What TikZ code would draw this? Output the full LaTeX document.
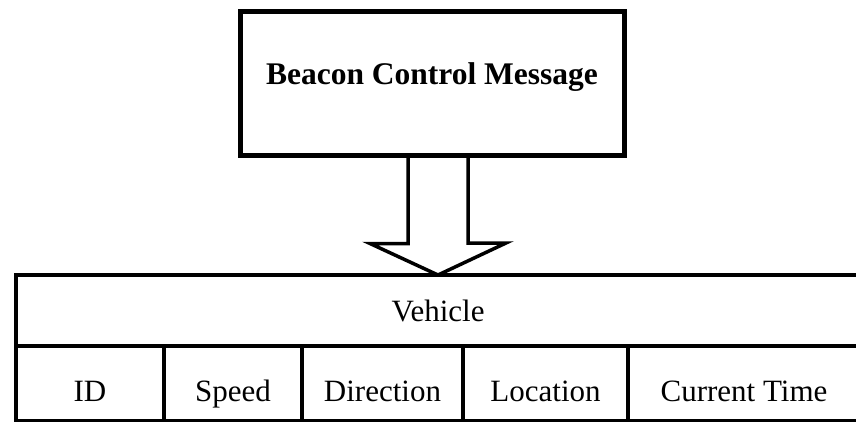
\documentclass[tikz,border=0pt]{standalone}
\usepackage{fontspec}
\setmainfont{Liberation Serif}
\usetikzlibrary{positioning}

\begin{document}
\begin{tikzpicture}[
    x=1pt,
    y=-1pt,
    titlebox/.style={
        rectangle,
        draw=black,
        line width=5pt,
        minimum width=384pt,
        minimum height=144pt,
        text height=21pt,
        text depth=18pt,
        font=\fontsize{31.5}{36}\selectfont\bfseries
    },
    rowbox/.style={
        rectangle,
        draw=black,
        line width=4.5pt,
        inner sep=0pt,
        outer sep=0pt,
        anchor=north west,
        minimum width=844pt,
        minimum height=71pt,
        font=\fontsize{31}{36}\selectfont
    },
    cell/.style={
        rectangle,
        draw=black,
        line width=4pt,
        inner sep=0pt,
        outer sep=0pt,
        minimum height=75pt,
        text height=36pt,
        text depth=0pt,
        font=\fontsize{31}{36}\selectfont
    },
    blockarrow/.style={
        draw=black,
        line width=3.5pt,
        line join=miter
    }
]
\useasboundingbox (0,0) rectangle (856,421);
\clip (0,0) rectangle (856,421);

\node[titlebox] (title) at (432,83) {Beacon Control Message};

% Tabela pojazdu
\node[rowbox] (vehicle) at (16,275) {Vehicle};
\node[cell, anchor=north west, minimum width=148pt] (id) at (16,346) {ID};
\node[cell, minimum width=138pt, right=0pt of id] (speed) {Speed};
\node[cell, minimum width=161pt, right=0pt of speed] (direction) {Direction};
\node[cell, minimum width=165pt, right=0pt of direction] (location) {Location};
\node[cell, minimum width=232pt, right=0pt of location] (curtime) {Current Time};

% Strzalka blokowa
\coordinate (tip) at (438,275);
\path (tip |- title.south) coordinate (shafttop);
\draw[blockarrow] ([xshift=-30pt]shafttop) -- ++(0,86) -- ++(-38,0) -- (tip)
    -- ++(68,-32) -- ++(-38,0) -- ([xshift=30pt]shafttop);

\end{tikzpicture}
\end{document}
